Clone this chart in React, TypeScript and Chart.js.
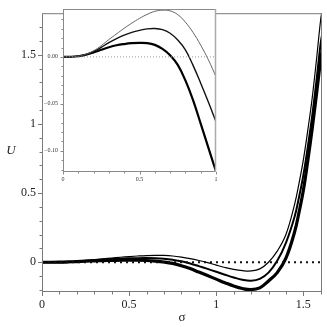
import React, { useEffect, useRef } from 'react';
import { Chart, registerables } from 'chart.js';
Chart.register(...registerables);

const sigma = [0, 0.05, 0.1, 0.15, 0.2, 0.25, 0.3, 0.35, 0.4, 0.45, 0.5, 0.55, 0.6, 0.65, 0.7, 0.75, 0.8, 0.85, 0.9, 0.95, 1.0, 1.05, 1.1, 1.15, 1.2, 1.25, 1.3, 1.35, 1.4, 1.45, 1.475, 1.5, 1.525, 1.55, 1.575, 1.6, 1.61];
const uThin = [0, 0.0001, 0.0008, 0.0028, 0.0065, 0.012, 0.0185, 0.0245, 0.0305, 0.036, 0.041, 0.0453, 0.0485, 0.0497, 0.049, 0.045, 0.037, 0.026, 0.0125, -0.003, -0.021, -0.038, -0.052, -0.061, -0.063, -0.048, 0.0, 0.08, 0.2, 0.42, 0.57, 0.74, 0.95, 1.18, 1.46, 1.76, 1.83];
const uMedium = [0, 0.0001, 0.0008, 0.0026, 0.0058, 0.0102, 0.0152, 0.0195, 0.0232, 0.0262, 0.0283, 0.0298, 0.0302, 0.029, 0.0252, 0.018, 0.0075, -0.009, -0.028, -0.048, -0.069, -0.09, -0.11, -0.127, -0.134, -0.12, -0.075, 0.01, 0.14, 0.33, 0.47, 0.63, 0.83, 1.05, 1.31, 1.59, 1.66];
const uThick = [0, 0.0001, 0.0007, 0.0023, 0.0048, 0.0076, 0.0103, 0.0124, 0.0137, 0.0146, 0.015, 0.0147, 0.0128, 0.0085, 0.0018, -0.0085, -0.025, -0.046, -0.071, -0.0965, -0.122, -0.148, -0.172, -0.19, -0.198, -0.185, -0.135, -0.075, 0.03, 0.22, 0.36, 0.52, 0.73, 0.96, 1.21, 1.47, 1.54];

const mainXTicks = [0, 0.5, 1, 1.5];
const mainXLabels = ['0', '0.5', '1', '1.5'];
const mainYTicks = [0, 0.5, 1, 1.5];
const mainYLabels = ['0', '0.5', '1', '1.5'];
const mainXMinor = [0.1, 0.2, 0.3, 0.4, 0.6, 0.7, 0.8, 0.9, 1.1, 1.2, 1.3, 1.4, 1.6];
const mainYMinor = [-0.2, -0.1, 0.1, 0.2, 0.3, 0.4, 0.6, 0.7, 0.8, 0.9, 1.1, 1.2, 1.3, 1.4, 1.6, 1.7];

const insetXTicks = [0, 0.5, 1];
const insetXLabels = ['0', '0.5', '1'];
const insetYTicks = [0, -0.05, -0.1];
const insetYLabels = ['0.00', '\u22120.05', '\u22120.10'];
const insetXMinor = [0.1, 0.2, 0.3, 0.4, 0.6, 0.7, 0.8, 0.9];
const insetYMinor = [0.04, 0.03, 0.02, 0.01, -0.01, -0.02, -0.03, -0.04, -0.06, -0.07, -0.08, -0.09, -0.11, -0.12];

const SERIF = '"Liberation Serif", "Times New Roman", serif';

function pts(ys: number[]) {
  return sigma.map((s, i) => ({ x: s, y: ys[i] }));
}

function drawTicks(chart: any, xMajor: number[], xMinor: number[], yMajor: number[], yMinor: number[], majLen: number, minLen: number) {
  const { ctx, chartArea: a, scales } = chart;
  const x = scales.x, y = scales.y;
  ctx.beginPath();
  for (const v of xMajor.concat(xMinor)) {
    const len = xMajor.includes(v) ? majLen : minLen;
    const px = Math.round(x.getPixelForValue(v)) + 0.5;
    ctx.moveTo(px, a.bottom);
    ctx.lineTo(px, a.bottom + len);
  }
  for (const v of yMajor.concat(yMinor)) {
    const len = yMajor.includes(v) ? majLen : minLen;
    const py = Math.round(y.getPixelForValue(v)) + 0.5;
    ctx.moveTo(a.left, py);
    ctx.lineTo(a.left - len, py);
  }
  ctx.stroke();
}

const mainDecor = {
  id: 'mainDecor',
  afterDraw(chart: any) {
    const { ctx, chartArea: a } = chart;
    ctx.save();
    ctx.strokeStyle = '#7a7a7a';
    ctx.lineWidth = 1;
    ctx.strokeRect(a.left + 0.5, a.top + 0.5, a.right - a.left - 1, a.bottom - a.top - 1);
    drawTicks(chart, mainXTicks, mainXMinor, mainYTicks, mainYMinor, 4, 2.5);
    ctx.fillStyle = '#222';
    ctx.font = '13px ' + SERIF;
    ctx.textAlign = 'center';
    ctx.textBaseline = 'middle';
    ctx.fillText('\u03c3', (a.left + a.right) / 2, 318);
    ctx.font = 'italic 13px ' + SERIF;
    ctx.fillText('U', 11, 151);
    ctx.restore();
  },
};

const insetDecor = {
  id: 'insetDecor',
  beforeDraw(chart: any) {
    const { ctx, chartArea: a } = chart;
    ctx.save();
    ctx.fillStyle = '#fff';
    ctx.fillRect(a.left, a.top, a.right - a.left, a.bottom - a.top);
    ctx.restore();
  },
  afterDraw(chart: any) {
    const { ctx, chartArea: a } = chart;
    ctx.save();
    ctx.strokeStyle = '#8a8a8a';
    ctx.lineWidth = 1;
    ctx.strokeRect(a.left + 0.5, a.top + 0.5, a.right - a.left - 1, a.bottom - a.top - 1);
    ctx.strokeStyle = '#aaa';
    ctx.lineWidth = 1.5;
    ctx.beginPath();
    ctx.moveTo(a.right - 0.5, a.top);
    ctx.lineTo(a.right - 0.5, a.bottom);
    ctx.stroke();
    ctx.strokeStyle = '#8a8a8a';
    ctx.lineWidth = 1;
    drawTicks(chart, insetXTicks, insetXMinor, insetYTicks, insetYMinor, 2.5, 1.5);
    ctx.restore();
  },
};

function fixedTicks(values: number[]) {
  return (scale: any) => {
    scale.ticks = values.map((v) => ({ value: v }));
  };
}

export default function App() {
  const mainRef = useRef<HTMLCanvasElement>(null);
  const insetRef = useRef<HTMLCanvasElement>(null);

  useEffect(() => {
    const main = new Chart(mainRef.current!, {
      type: 'line',
      data: {
        datasets: [
          { data: [{ x: 0, y: 0 }, { x: 1.607, y: 0 }], borderColor: '#111', borderWidth: 1.8, borderDash: [2, 4], pointRadius: 0 },
          { data: pts(uThin), borderColor: '#000', borderWidth: 1.2, pointRadius: 0, tension: 0.4 },
          { data: pts(uMedium), borderColor: '#000', borderWidth: 2, pointRadius: 0, tension: 0.4 },
          { data: pts(uThick), borderColor: '#000', borderWidth: 3.2, pointRadius: 0, tension: 0.4 },
        ],
      },
      options: {
        animation: false,
        responsive: false,
        devicePixelRatio: 1,
        layout: { padding: { top: 5, right: 5, left: 0, bottom: 0 } },
        plugins: { legend: { display: false }, tooltip: { enabled: false } },
        scales: {
          x: {
            type: 'linear', min: 0, max: 1.607,
            afterBuildTicks: fixedTicks(mainXTicks),
            afterFit: (s: any) => { s.height = 35; },
            grid: { display: false, drawTicks: false },
            border: { display: false },
            ticks: { padding: 6, color: '#222', font: { family: SERIF, size: 12 }, maxRotation: 0, autoSkip: false,
              callback: (v: any) => mainXLabels[mainXTicks.indexOf(Number(v))] ?? '' },
          },
          y: {
            type: 'linear', min: -0.215, max: 1.80,
            afterBuildTicks: fixedTicks(mainYTicks),
            afterFit: (s: any) => { s.width = 42; },
            grid: { display: false, drawTicks: false },
            border: { display: false },
            ticks: { padding: 6, color: '#222', font: { family: SERIF, size: 12 }, autoSkip: false,
              callback: (v: any) => mainYLabels[mainYTicks.indexOf(Number(v))] ?? '' },
          },
        },
      },
      plugins: [mainDecor],
    } as any);

    const inset = new Chart(insetRef.current!, {
      type: 'line',
      data: {
        datasets: [
          { data: [{ x: 0, y: 0 }, { x: 1, y: 0 }], borderColor: '#999', borderWidth: 1, borderDash: [1, 2], pointRadius: 0 },
          { data: pts(uThin), borderColor: '#555', borderWidth: 0.9, pointRadius: 0, tension: 0.4 },
          { data: pts(uMedium), borderColor: '#111', borderWidth: 1.4, pointRadius: 0, tension: 0.4 },
          { data: pts(uThick), borderColor: '#000', borderWidth: 2.2, pointRadius: 0, tension: 0.4 },
        ],
      },
      options: {
        animation: false,
        responsive: false,
        devicePixelRatio: 1,
        layout: { padding: { top: 9, right: 111, left: 40, bottom: 140 } },
        plugins: { legend: { display: false }, tooltip: { enabled: false } },
        scales: {
          x: {
            type: 'linear', min: 0, max: 1,
            afterBuildTicks: fixedTicks(insetXTicks),
            afterFit: (s: any) => { s.height = 15; },
            grid: { display: false, drawTicks: false },
            border: { display: false },
            ticks: { padding: 4, color: '#333', font: { family: SERIF, size: 6 }, maxRotation: 0, autoSkip: false,
              callback: (v: any) => insetXLabels[insetXTicks.indexOf(Number(v))] ?? '' },
          },
          y: {
            type: 'linear', min: -0.1225, max: 0.051,
            afterBuildTicks: fixedTicks(insetYTicks),
            afterFit: (s: any) => { s.width = 23; },
            grid: { display: false, drawTicks: false },
            border: { display: false },
            ticks: { padding: 5, color: '#333', font: { family: SERIF, size: 6 }, autoSkip: false,
              callback: (v: any) => insetYLabels[insetYTicks.indexOf(Number(v))] ?? '' },
          },
        },
      },
      plugins: [insetDecor],
    } as any);

    return () => {
      main.destroy();
      inset.destroy();
    };
  }, []);

  return (
    <div style={{ position: 'fixed', left: 0, top: 0, width: 327, height: 327, background: '#fff' }}>
      <canvas ref={mainRef} width={327} height={327} style={{ position: 'absolute', left: 0, top: 0 }} />
      <canvas ref={insetRef} width={327} height={327} style={{ position: 'absolute', left: 0, top: 0 }} />
    </div>
  );
}
